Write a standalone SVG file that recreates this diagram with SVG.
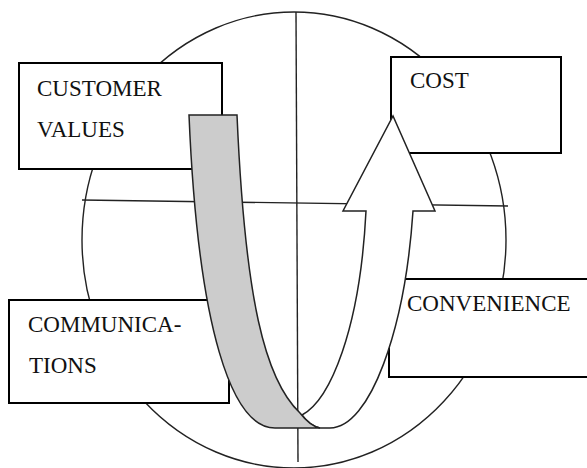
<svg xmlns="http://www.w3.org/2000/svg" width="587" height="468" viewBox="0 0 587 468">
  <style>
    .axis { fill: none; stroke: #222; stroke-width: 1.4; }
    .box rect { fill: #fff; stroke: #000; stroke-width: 2; }
    .box text { font-family: "Liberation Serif", "Times New Roman", serif; font-size: 23px; fill: #111; }
    .band { fill: #cccccc; stroke: #222; stroke-width: 1.5; stroke-linejoin: miter; }
    .shaft { fill: #fff; stroke: #222; stroke-width: 1.5; stroke-linejoin: miter; }
  </style>

  <!-- background: ring and crossing axes -->
  <g id="frame">
    <ellipse class="axis" cx="294" cy="240" rx="212" ry="228"/>
    <line class="axis" x1="296" y1="12" x2="298" y2="462"/>
    <line class="axis" x1="82" y1="200" x2="508" y2="206"/>
  </g>

  <g id="customer-values" class="box">
    <rect x="19" y="63" width="203" height="106"/>
    <text x="37" y="96">CUSTOMER</text>
    <text x="37" y="137">VALUES</text>
  </g>

  <g id="cost" class="box">
    <rect x="391" y="57" width="170" height="96"/>
    <text x="410" y="88">COST</text>
  </g>

  <g id="communications" class="box">
    <rect x="9" y="300" width="220" height="103"/>
    <text x="28" y="332">COMMUNICA-</text>
    <text x="29" y="373">TIONS</text>
  </g>

  <g id="convenience" class="box">
    <rect x="389" y="279" width="200" height="98"/>
    <text x="407" y="311">CONVENIENCE</text>
  </g>

  <!-- U-shaped flow: grey descending ribbon turning into the white rising arrow -->
  <g id="connectors">
    <path class="shaft" d="M 302,415 C 330,400 360,330 366,211 L 343,211 L 393,116 L 435,211 L 413,211 C 405,330 370,428 330,428 L 320,428 Q 310,426 302,415 Z"/>
    <path class="band" d="M 189,115 L 237,115 C 245,300 265,380 300,413 Q 310,426 320,428 L 275,428 C 232,428 198,330 189,115 Z"/>
  </g>
</svg>
